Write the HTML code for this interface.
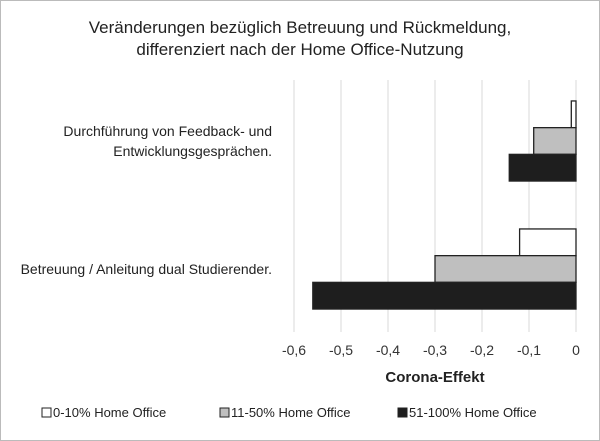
<!DOCTYPE html>
<html><head><meta charset="utf-8"><style>
body{margin:0;background:#fff;}
svg{display:block;font-family:"Liberation Sans",Arial,sans-serif;}
</style></head><body>
<svg width="600" height="441" viewBox="0 0 600 441">
<rect x="0.5" y="0.5" width="599" height="440" fill="#fff" stroke="#bbb"/>
<text x="300" y="33" text-anchor="middle" font-size="17" fill="#222">Veränderungen bezüglich Betreuung und Rückmeldung,</text>
<text x="300" y="55" text-anchor="middle" font-size="17" fill="#222">differenziert nach der Home Office-Nutzung</text>
<g id="grid"></g><g id="bars"></g><g id="ticks"></g><g id="cats"></g>
<text x="435" y="382" text-anchor="middle" font-size="15" font-weight="bold" fill="#222">Corona-Effekt</text>
<g font-size="13" fill="#222">
<rect x="42" y="408" width="9" height="9" fill="#fff" stroke="#222"/>
<text x="53" y="417">0-10% Home Office</text>
<rect x="220" y="408" width="9" height="9" fill="#bfbfbf" stroke="#222"/>
<text x="231" y="417">11-50% Home Office</text>
<rect x="398" y="408" width="9" height="9" fill="#1e1e1e" stroke="#222"/>
<text x="409" y="417">51-100% Home Office</text>
</g>
</svg>
<script>
const categories=[["Durchführung von Feedback- und","Entwicklungsgesprächen."],["Betreuung / Anleitung dual Studierender."]];
const seriesLow=[-0.01,-0.12];
const seriesMid=[-0.09,-0.30];
const seriesHigh=[-0.142,-0.56];
const tickValues=[-0.6,-0.5,-0.4,-0.3,-0.2,-0.1,0];
const tickLabels=["-0,6","-0,5","-0,4","-0,3","-0,2","-0,1","0"];
const NS="http://www.w3.org/2000/svg";
const x0=294,x1=576,vmin=-0.6,vmax=0;
const xs=v=>x0+(v-vmin)/(vmax-vmin)*(x1-x0);
const gridTop=80,plotTop=77,plotBottom=332,groupH=128,barH=26.7;
function mk(tag,attrs,parent){const e=document.createElementNS(NS,tag);for(const k in attrs)e.setAttribute(k,attrs[k]);parent.appendChild(e);return e;}
const grid=document.getElementById('grid'),bars=document.getElementById('bars'),ticks=document.getElementById('ticks'),cats=document.getElementById('cats');
tickValues.forEach((v,i)=>{
 const l=mk('line',{x1:xs(v),x2:xs(v),y1:gridTop,y2:plotBottom,stroke:'#d9d9d9','stroke-width':1},grid);
 
 
 const t=mk('text',{x:xs(v),y:355,'text-anchor':'middle','font-size':14,fill:'#333'},ticks);
 t.textContent=tickLabels[i];
 
 
});
const series=[[seriesLow,'#fff','bar-0-10'],[seriesMid,'#bfbfbf','bar-11-50'],[seriesHigh,'#1e1e1e','bar-51-100']];
categories.forEach((c,ci)=>{
 const gc=plotTop+groupH*ci+groupH/2;
 series.forEach((s,si)=>{
  const v=s[0][ci];const y=gc-1.5*barH+si*barH;
  const r=mk('rect',{x:xs(v),y:y,width:xs(0)-xs(v),height:barH,fill:s[1],stroke:'#222','stroke-width':1.3},bars);
  
  
 });
 c.forEach((line,li)=>{
  const t=mk('text',{x:272,y:gc+5+(li-(c.length-1)/2)*20,'text-anchor':'end','font-size':14,fill:'#222'},cats);
  t.textContent=line;
  
  
 });
});
</script>
</body></html>
